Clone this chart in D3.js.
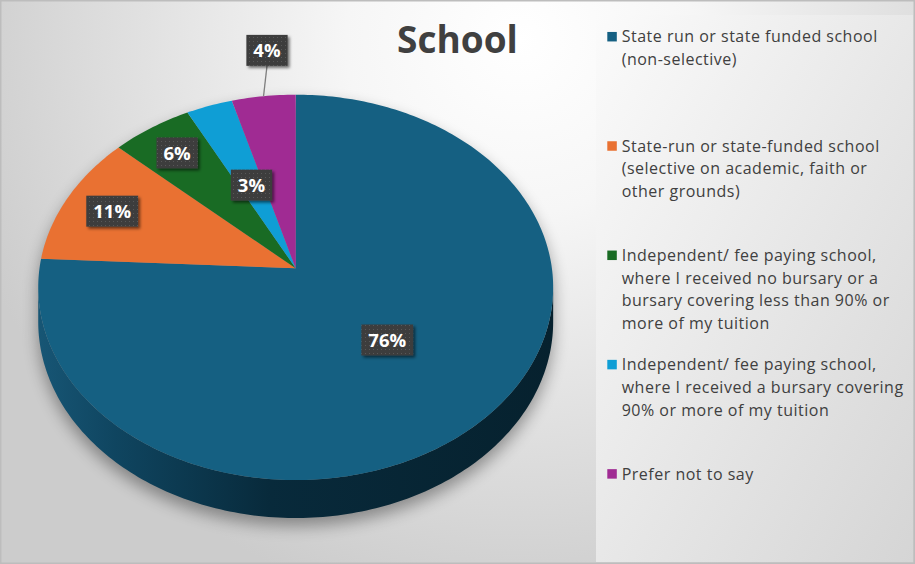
<!DOCTYPE html>
<html>
<head>
<meta charset="utf-8">
<script src="https://cdn.jsdelivr.net/npm/d3@7"></script>
<style>
  html, body { margin: 0; padding: 0; background: #fff; }
  svg { display: block; font-family: "Open Sans", "Liberation Sans", sans-serif; }
</style>
</head>
<body>
<div id="chart"></div>
<script>
var width = 915;
var height = 564;

// data
var categories = [
    "State run or state funded school\n(non-selective)",
    "State-run or state-funded school\n(selective on academic, faith or\nother grounds)",
    "Independent/ fee paying school,\nwhere I received no bursary or a\nbursary covering less than 90% or\nmore of my tuition",
    "Independent/ fee paying school,\nwhere I received a bursary covering\n90% or more of my tuition",
    "Prefer not to say"
];
var values = [75.8, 11.0, 5.6, 3.2, 4.4];
var colors = ["#156082", "#E97132", "#196B24", "#0F9ED5", "#A02B93"];
var title = "School";

// label placement (fraction of radius) and small nudges, like excel's best fit
var labelRadius = [0.5, 0.8, 0.81, 0.49, 1.3];
var labelNudgeX = [0, 0, 0, 0, 12];

// 3d pie geometry
var cx = 295.7, cy = 268.3;   // apex of the slices
var rxA = 256.2, ryB = 190.8; // projected radii
var persp = 0.0989;           // perspective factor
var depth = 34.2;             // side wall height

function proj(r, a) {
    var u = r * Math.sin(a), v = r * Math.cos(a);
    var w = 1 + persp * v;
    return [cx + rxA * u / w, cy - ryB * v / w];
}
function projBottom(a) {
    var p = proj(1, a);
    var w = 1 + persp * Math.cos(a);
    return [p[0], p[1] + depth / w];
}
function arcPoints(a0, a1, fn) {
    var n = Math.max(2, Math.ceil(Math.abs(a1 - a0) / (Math.PI / 180)));
    return d3.range(n + 1).map(function (i) { return fn(a0 + (a1 - a0) * i / n); });
}

var svg = d3.select("#chart").append("svg")
    .attr("width", width)
    .attr("height", height);

var defs = svg.append("defs");

var bg = defs.append("radialGradient")
    .attr("id", "bgGrad")
    .attr("gradientUnits", "userSpaceOnUse")
    .attr("cx", 520).attr("cy", 40).attr("r", 580);
bg.append("stop").attr("offset", "0").attr("stop-color", "#ffffff");
bg.append("stop").attr("offset", "0.3").attr("stop-color", "#f6f6f6");
bg.append("stop").attr("offset", "1").attr("stop-color", "#cccccc");

var lg = defs.append("linearGradient")
    .attr("id", "legGrad")
    .attr("x1", 0).attr("y1", 0).attr("x2", 1).attr("y2", 1);
lg.append("stop").attr("offset", "0").attr("stop-color", "#fbfbfb");
lg.append("stop").attr("offset", "1").attr("stop-color", "#d5d5d5");

var sg = defs.append("linearGradient")
    .attr("id", "sideGrad")
    .attr("gradientUnits", "userSpaceOnUse")
    .attr("x1", 38).attr("y1", 0).attr("x2", 553).attr("y2", 0);
sg.append("stop").attr("offset", "0").attr("stop-color", "#175675");
sg.append("stop").attr("offset", "0.15").attr("stop-color", "#0f4560");
sg.append("stop").attr("offset", "0.45").attr("stop-color", "#082a3b");
sg.append("stop").attr("offset", "1").attr("stop-color", "#06212e");

defs.append("filter")
    .attr("id", "pieShadow")
    .attr("x", "-20%").attr("y", "-20%").attr("width", "140%").attr("height", "140%")
    .append("feGaussianBlur").attr("stdDeviation", 8);

var bs = defs.append("filter")
    .attr("id", "boxShadow")
    .attr("x", "-30%").attr("y", "-30%").attr("width", "160%").attr("height", "160%");
bs.append("feDropShadow")
    .attr("dx", 2).attr("dy", 2).attr("stdDeviation", 1.6)
    .attr("flood-color", "#000").attr("flood-opacity", 0.55);

var pat = defs.append("pattern")
    .attr("id", "dots")
    .attr("patternUnits", "userSpaceOnUse")
    .attr("width", 4).attr("height", 4);
pat.append("rect").attr("width", 4).attr("height", 4).attr("fill", "#3e3e3e");
pat.append("rect").attr("x", 1).attr("y", 1).attr("width", 1).attr("height", 1).attr("fill", "#585858");

// chart background + border
svg.append("rect")
    .attr("x", 0.75).attr("y", 0.75)
    .attr("width", width - 1.5).attr("height", height - 1.5)
    .attr("fill", "url(#bgGrad)")
    .attr("stroke", "#bdbdbd")
    .attr("stroke-width", 1.5);

// legend panel
svg.append("rect")
    .attr("x", 596).attr("y", 15)
    .attr("width", 317).attr("height", 547)
    .attr("fill", "url(#legGrad)");

// pie
var pie = d3.pie().sort(null).value(function (d) { return d; });
var arcs = pie(values);
var total = d3.sum(values);

var aL = Math.acos(-persp);
var aR = 2 * Math.PI - aL;
var line = d3.line();

var g = svg.append("g").attr("class", "pie");

// silhouette shadow
var topOutline = arcPoints(0, 2 * Math.PI, function (a) { return proj(1, a); });
var sidePts = arcPoints(aL, aR, function (a) { return proj(1, a); })
    .concat(arcPoints(aR, aL, projBottom));
g.append("path")
    .attr("d", line(topOutline) + "Z" + line(sidePts) + "Z")
    .attr("fill", "#000")
    .attr("opacity", 0.36)
    .attr("transform", "translate(0,8)")
    .attr("filter", "url(#pieShadow)");

// side wall (only the first slice faces the viewer)
g.append("path")
    .attr("d", line(sidePts) + "Z")
    .attr("fill", "url(#sideGrad)");

// top faces
g.selectAll("path.slice")
    .data(arcs)
    .join("path")
    .attr("class", "slice")
    .attr("d", function (d) {
        var pts = [[cx, cy]].concat(arcPoints(d.startAngle, d.endAngle, function (a) { return proj(1, a); }));
        return line(pts) + "Z";
    })
    .attr("fill", function (d, i) { return colors[i]; });

// data labels
var labels = svg.append("g").attr("class", "labels");
arcs.forEach(function (d, i) {
    var mid = (d.startAngle + d.endAngle) / 2;
    var p = proj(labelRadius[i], mid);
    var lx = p[0] + labelNudgeX[i], ly = p[1];
    var txt = Math.round(d.value / total * 100) + "%";
    var lab = labels.append("g");
    var t = lab.append("text")
        .attr("x", lx).attr("y", ly)
        .attr("dy", "0.36em")
        .attr("text-anchor", "middle")
        .attr("fill", "#ffffff")
        .attr("font-size", 18.5)
        .attr("font-weight", "bold")
        .text(txt);
    var tw = t.node().getComputedTextLength();
    var bw = tw + 14, bh = 31;
    if (labelRadius[i] > 1) {
        var e = proj(1, mid);
        lab.insert("line", "text")
            .attr("x1", e[0]).attr("y1", e[1])
            .attr("x2", lx).attr("y2", ly + bh / 2)
            .attr("stroke", "#7f7f7f")
            .attr("stroke-width", 1.3);
    }
    lab.insert("rect", "text")
        .attr("x", lx - bw / 2).attr("y", ly - bh / 2)
        .attr("width", bw).attr("height", bh)
        .attr("fill", "url(#dots)")
        .attr("filter", "url(#boxShadow)");
});

// title
svg.append("text")
    .attr("x", 457.5).attr("y", 52.5)
    .attr("text-anchor", "middle")
    .attr("font-size", 37)
    .attr("font-weight", "bold")
    .attr("fill", "#404040")
    .text(title);

// legend
var legend = svg.append("g").attr("class", "legend");
var entryGap = 109.3, lineGap = 22.7;
categories.forEach(function (c, i) {
    var y0 = 36.7 + i * entryGap;
    legend.append("rect")
        .attr("x", 607.3).attr("y", y0 - 4.75)
        .attr("width", 9.5).attr("height", 9.5)
        .attr("fill", colors[i]);
    var t = legend.append("text")
        .attr("fill", "#404040")
        .attr("font-size", 16)
        .attr("letter-spacing", 0.5);
    c.split("\n").forEach(function (s, j) {
        t.append("tspan")
            .attr("x", 621.7)
            .attr("y", y0 + j * lineGap)
            .attr("dy", "0.35em")
            .text(s);
    });
});
</script>
</body>
</html>
